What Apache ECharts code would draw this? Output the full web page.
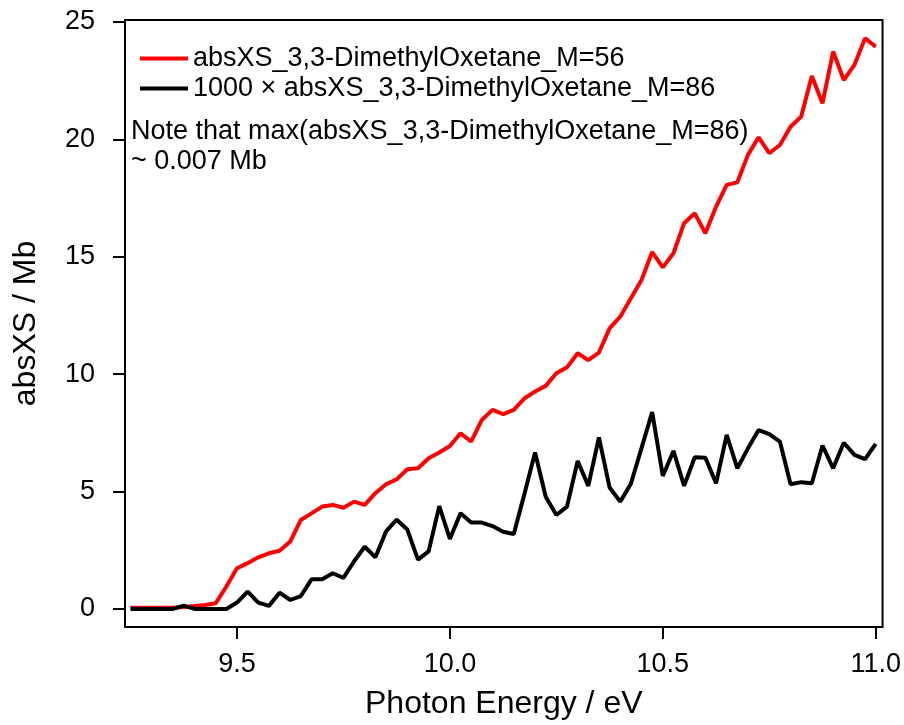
<!DOCTYPE html>
<html>
<head>
<meta charset="utf-8">
<script src="https://cdn.jsdelivr.net/npm/echarts@6/dist/echarts.min.js"></script>
<style>
  html, body { margin: 0; padding: 0; background: #fff; }
  #chart { width: 904px; height: 725px; }
</style>
</head>
<body>
<div id="chart"></div>
<script>
// photon energy / eV
const energies = [
  9.25, 9.275, 9.3, 9.325, 9.35, 9.375, 9.4, 9.425, 9.45, 9.475,
  9.5, 9.525, 9.55, 9.575, 9.6, 9.625, 9.65, 9.675, 9.7, 9.725,
  9.75, 9.775, 9.8, 9.825, 9.85, 9.875, 9.9, 9.925, 9.95, 9.975,
  10.0, 10.025, 10.05, 10.075, 10.1, 10.125, 10.15, 10.175, 10.2, 10.225,
  10.25, 10.275, 10.3, 10.325, 10.35, 10.375, 10.4, 10.425, 10.45, 10.475,
  10.5, 10.525, 10.55, 10.575, 10.6, 10.625, 10.65, 10.675, 10.7, 10.725,
  10.75, 10.775, 10.8, 10.825, 10.85, 10.875, 10.9, 10.925, 10.95, 10.975,
  11.0
];
// absXS_3,3-DimethylOxetane_M=56
const absXS56 = [
  0.05, 0.05, 0.05, 0.05, 0.05, 0.08, 0.12, 0.17, 0.24, 0.95,
  1.73, 1.95, 2.2, 2.37, 2.48, 2.87, 3.79, 4.07, 4.36, 4.43,
  4.31, 4.57, 4.43, 4.93, 5.31, 5.52, 5.95, 5.99, 6.42, 6.66,
  6.94, 7.48, 7.13, 8.05, 8.48, 8.3, 8.48, 8.97, 9.26, 9.5,
  10.04, 10.29, 10.89, 10.6, 10.92, 11.95, 12.45, 13.23, 14.01, 15.2,
  14.55, 15.15, 16.43, 16.85, 16.0, 17.13, 18.06, 18.17, 19.34, 20.09,
  19.41, 19.76, 20.54, 20.97, 22.7, 21.54, 23.74, 22.53, 23.17, 24.31,
  23.95
];
// 1000 x absXS_3,3-DimethylOxetane_M=86
const absXS86x1000 = [
  0, 0, 0, 0, 0, 0.14, 0, 0, 0, 0,
  0.27, 0.74, 0.27, 0.13, 0.69, 0.38, 0.55, 1.26, 1.26, 1.52,
  1.32, 2.03, 2.65, 2.2, 3.3, 3.8, 3.38, 2.1, 2.45, 4.38,
  2.98, 4.08, 3.68, 3.68, 3.53, 3.29, 3.19, 4.9, 6.66, 4.78,
  4.0, 4.36, 6.3, 5.24, 7.31, 5.17, 4.57, 5.33, 6.85, 8.38,
  5.66, 6.73, 5.24, 6.46, 6.44, 5.35, 7.41, 5.99, 6.84, 7.62,
  7.45, 7.13, 5.31, 5.4, 5.35, 6.96, 5.99, 7.08, 6.56, 6.38,
  7.03
];
const xTicks = [9.5, 10.0, 10.5, 11.0];
const yTicks = [0, 5, 10, 15, 20, 25];

const FONT = '"Liberation Sans", Arial, sans-serif';

const chart = echarts.init(document.getElementById('chart'));

chart.setOption({
  animation: false,
  backgroundColor: '#fff',
  textStyle: { fontFamily: FONT },
  grid: {
    left: 125, right: 21, top: 20, bottom: 98,
    show: true, borderColor: '#000', borderWidth: 2
  },
  legend: {
    orient: 'vertical',
    left: 135, top: 40,
    itemWidth: 48, itemHeight: 4, itemGap: 3,
    icon: 'rect',
    textStyle: { fontSize: 27, color: '#000', fontFamily: FONT },
    data: ['absXS_3,3-DimethylOxetane_M=56', '1000 × absXS_3,3-DimethylOxetane_M=86']
  },
  graphic: [{
    type: 'text',
    left: 131, top: 117,
    style: {
      text: 'Note that max(absXS_3,3-DimethylOxetane_M=86)\n~ 0.007 Mb',
      font: '27px ' + FONT,
      lineHeight: 30,
      fill: '#000'
    }
  }],
  xAxis: {
    type: 'value',
    min: 9.237, max: 11.016,
    name: 'Photon Energy / eV',
    nameLocation: 'middle',
    nameGap: 61,
    nameTextStyle: { fontSize: 32, color: '#000', fontFamily: FONT },
    axisLine: { onZero: false, lineStyle: { color: '#000', width: 2 } },
    axisTick: { inside: false, length: 12, customValues: xTicks, lineStyle: { color: '#000', width: 2 } },
    axisLabel: {
      customValues: xTicks, margin: 24, fontSize: 27, color: '#000',
      formatter: v => v.toFixed(1)
    },
    splitLine: { show: false }
  },
  yAxis: {
    type: 'value',
    min: -0.77, max: 25.085,
    name: 'absXS / Mb',
    nameLocation: 'middle',
    nameGap: 83,
    nameTextStyle: { fontSize: 32, color: '#000', fontFamily: FONT },
    axisLine: { show: true, lineStyle: { color: '#000', width: 2 } },
    axisTick: { show: true, inside: false, length: 12, customValues: yTicks, lineStyle: { color: '#000', width: 2 } },
    axisLabel: {
      customValues: yTicks, margin: 30, fontSize: 27, color: '#000',
      formatter: v => String(v)
    },
    splitLine: { show: false }
  },
  series: [
    {
      name: 'absXS_3,3-DimethylOxetane_M=56',
      type: 'line',
      showSymbol: false,
      color: '#ff0000',
      lineStyle: { width: 4, color: '#ff0000' },
      data: energies.map((e, i) => [e, absXS56[i]])
    },
    {
      name: '1000 × absXS_3,3-DimethylOxetane_M=86',
      type: 'line',
      showSymbol: false,
      color: '#000',
      lineStyle: { width: 4, color: '#000' },
      data: energies.map((e, i) => [e, absXS86x1000[i]])
    }
  ]
});
</script>
</body>
</html>
